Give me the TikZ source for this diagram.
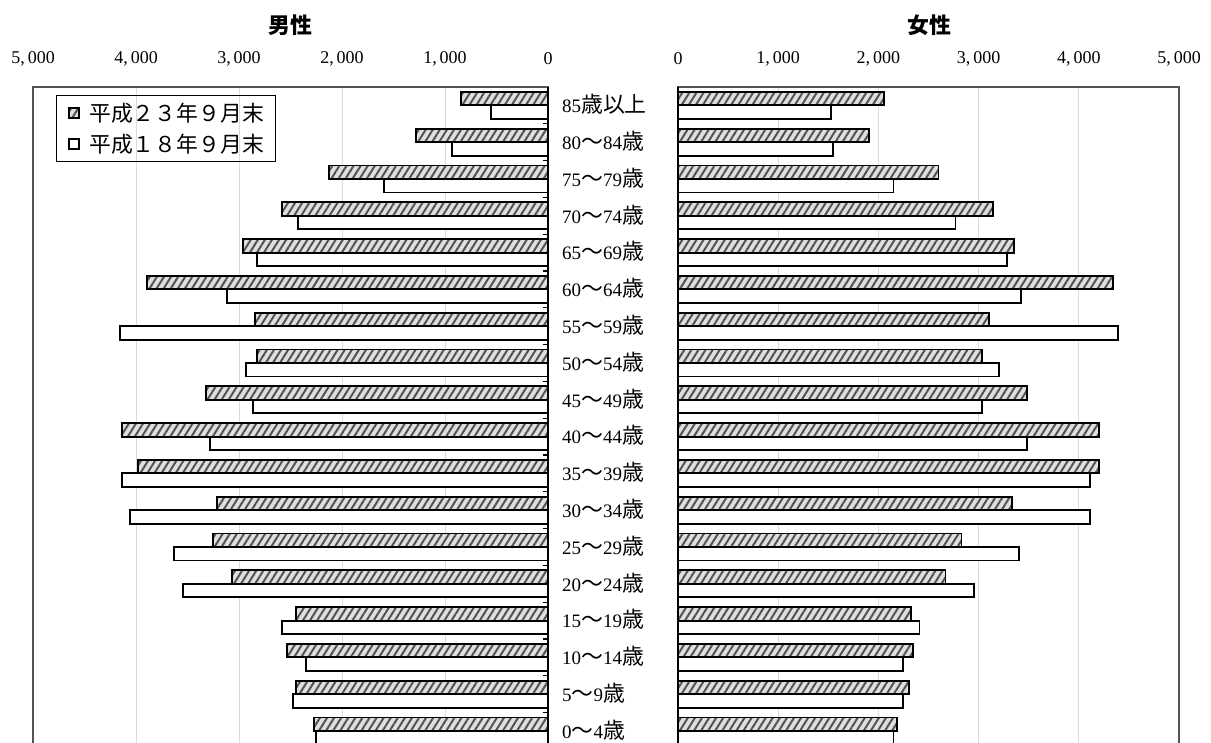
\documentclass[tikz,border=0pt]{standalone}
\usepackage{fontspec}
\setmainfont{Liberation Serif}
\newfontfamily\jp{Noto Sans CJK JP}[Scale=1.15]
\usetikzlibrary{patterns.meta}
\def\ij#1{{\jp #1}}
\def\zL{548}
\def\zR{678}
\def\sL{0.103}
\def\sR{0.1002}
\def\rowh{36.8}

\begin{document}
\begin{tikzpicture}[x=1pt,y=-1pt,
    bar/.style={draw=black,line width=1.9pt},
    newbar/.style={bar,preaction={fill=gray!25},
      pattern={Lines[angle=58,distance=6pt,line width=2pt]},pattern color=gray!65!black},
    oldbar/.style={bar,fill=white},
    gridline/.style={draw=gray!28,line width=0.8pt},
    panel/.style={draw=gray!65!black,line width=1.6pt},
    ticklab/.style={inner sep=0pt,font=\fontsize{18}{18}\selectfont},
    agelab/.style={anchor=west,inner sep=0pt,font=\fontsize{19}{19}\selectfont},
    title/.style={inner sep=0pt,font=\fontsize{19}{19}\selectfont\jp\bfseries}]
  \useasboundingbox (0,0) rectangle (1211,743);

  % grid and frames
  \foreach \k in {1,...,4} {
    \draw[gridline] ({\zL-\sL*\k*1000},87) -- ({\zL-\sL*\k*1000},749);
    \draw[gridline] ({\zR+\sR*\k*1000},87) -- ({\zR+\sR*\k*1000},749);
  }
  \draw[panel] (33,87) rectangle (\zL,749);
  \draw[panel] (\zR,87) rectangle (1179,749);

  % value axes
  \foreach \k/\t in {0/0,1/{1,\,000},2/{2,\,000},3/{3,\,000},4/{4,\,000},5/{5,\,000}} {
    \node[ticklab] (tl\k) at ({\zL-\sL*\k*1000},59) {\t};
    \node[ticklab] (tr\k) at ({\zR+\sR*\k*1000},59) {\t};
  }
  \node[title] (tM) at (290,25) {男性};
  \node[title] (tF) at (929,25) {女性};

  % bars: label / male H23 / male H18 / female H23 / female H18
  \foreach \lab/\mH/\mO/\fH/\fO [count=\i from 0] in {
      85\ij{歳以上}/845/553/2052/1524,
      80\ij{～}84\ij{歳}/1282/932/1902/1544,
      75\ij{～}79\ij{歳}/2126/1592/2600/2151,
      70\ij{～}74\ij{歳}/2583/2427/3147/2769,
      65\ij{～}69\ij{歳}/2961/2825/3357/3287,
      60\ij{～}64\ij{歳}/3893/3117/4343/3426,
      55\ij{～}59\ij{歳}/2845/4155/3108/4392,
      50\ij{～}54\ij{歳}/2825/2932/3038/3207,
      45\ij{～}49\ij{歳}/3320/2864/3486/3038,
      40\ij{～}44\ij{歳}/4136/3282/4203/3486,
      35\ij{～}39\ij{歳}/3981/4136/4203/4114,
      30\ij{～}34\ij{歳}/3214/4058/3337/4114,
      25\ij{～}29\ij{歳}/3252/3631/2829/3406,
      20\ij{～}24\ij{歳}/3068/3544/2669/2958,
      15\ij{～}19\ij{歳}/2447/2583/2321/2410,
      10\ij{～}14\ij{歳}/2534/2350/2341/2241,
      5\ij{～}9\ij{歳}/2447/2476/2301/2241,
      0\ij{～}4\ij{歳}/2272/2252/2181/2151} {
    \pgfmathsetmacro\yc{87+\rowh*(\i+0.5)}
    \draw[newbar] (\zL,\yc-13.5) rectangle ({\zL-\sL*\mH},\yc);
    \draw[oldbar] (\zL,\yc) rectangle ({\zL-\sL*\mO},\yc+13.5);
    \draw[newbar] (\zR,\yc-13.5) rectangle ({\zR+\sR*\fH},\yc);
    \draw[oldbar] (\zR,\yc) rectangle ({\zR+\sR*\fO},\yc+13.5);
    \node[agelab] (age\i) at (562,\yc-1) {\lab};
  }

  % category axes
  \foreach \i in {1,...,17}
    \draw[line width=1.2pt] ({\zL-5},{87+\rowh*\i}) -- (\zL,{87+\rowh*\i});
  \draw[line width=2.4pt] (\zL,87) -- (\zL,749);
  \draw[line width=1.6pt] (\zR,87) -- (\zR,749);

  % legend
  \node[draw=black,line width=1.4pt,minimum width=219pt,minimum height=66pt,
    anchor=north west,inner sep=0pt] (lgd) at (56,95) {};
  \draw[newbar,line width=2pt] (69,108) rectangle (79,118);
  \draw[oldbar,line width=2pt] (69,139) rectangle (79,149);
  \node[agelab] (lg23) at (89,113) {\ij{平成２３年９月末}};
  \node[agelab] (lg18) at (89,144) {\ij{平成１８年９月末}};
\end{tikzpicture}
\end{document}
